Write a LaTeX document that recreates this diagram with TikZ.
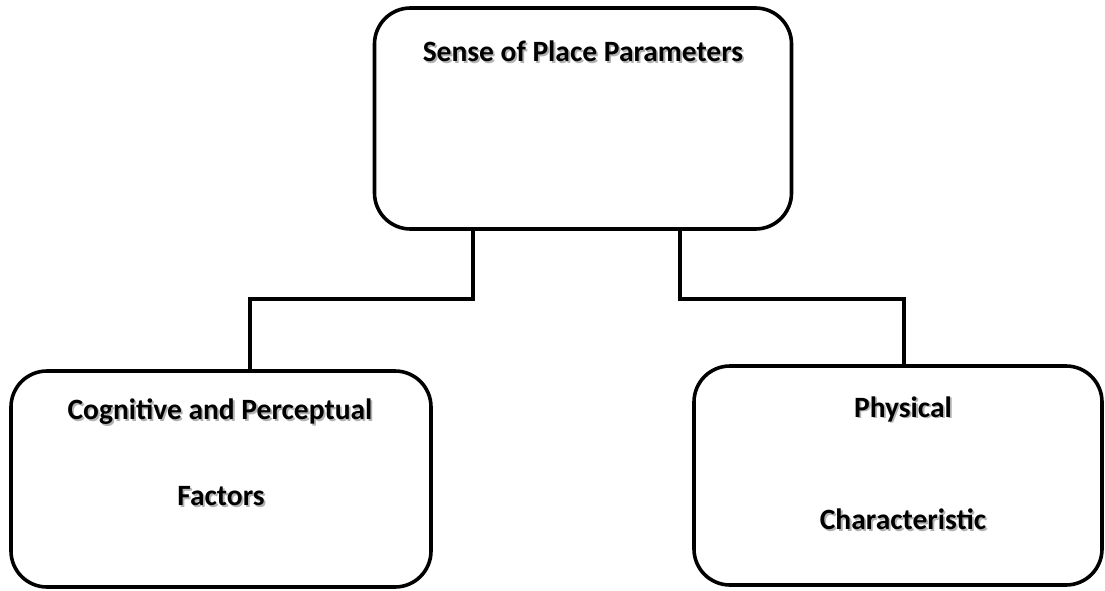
\documentclass[tikz,border=0pt]{standalone}
\usepackage{fontspec}
\setmainfont{Carlito}
\usepackage{xcolor}
\newcommand{\shtext}[1]{\makebox[0pt][l]{\hspace{1.8pt}\raisebox{-1.8pt}{\textcolor{black!30}{#1}}}#1}
\begin{document}
\begin{tikzpicture}[x=1pt,y=-1pt,
  box/.style={draw=black, line width=3.6pt, rounded corners=36pt, fill=white, inner sep=0pt},
  lbl/.style={font=\fontsize{29.5}{34}\selectfont\bfseries, inner sep=0pt, anchor=center},
  conn/.style={draw=black, line width=3.2pt}]
\useasboundingbox (0,0) rectangle (1105,591);
\fill[white] (0,0) rectangle (1105,591);
% boxes
\node[box, minimum width=417pt, minimum height=221pt] (top) at (583,118.5) {};
\node[box, minimum width=420pt, minimum height=216pt] (left) at (221,479) {};
\node[box, minimum width=408pt, minimum height=219pt] (right) at (898,475.5) {};
% texts
\node[lbl] (ttop) at (583,52) {\shtext{Sense of Place Parameters}};
\node[lbl] (tl1) at (220,413) {\shtext{Cognitive and Perceptual}};
\node[lbl] (tl2) at (221,497) {\shtext{Factors}};
\node[lbl] (tr1) at (903,410) {\shtext{Physical}};
\node[lbl] (tr2) at (903,520) {\shtext{Characteristic}};
% junction coordinates
\coordinate (a1) at (473,299);
\coordinate (b1) at (250,299);
\coordinate (a2) at (680,299);
\coordinate (b2) at (904,299);
% connectors
\draw[conn] (a1 |- top.south) -- (a1) -- (b1) -- (b1 |- left.north);
\draw[conn] (a2 |- top.south) -- (a2) -- (b2) -- (b2 |- right.north);
\end{tikzpicture}
\end{document}
